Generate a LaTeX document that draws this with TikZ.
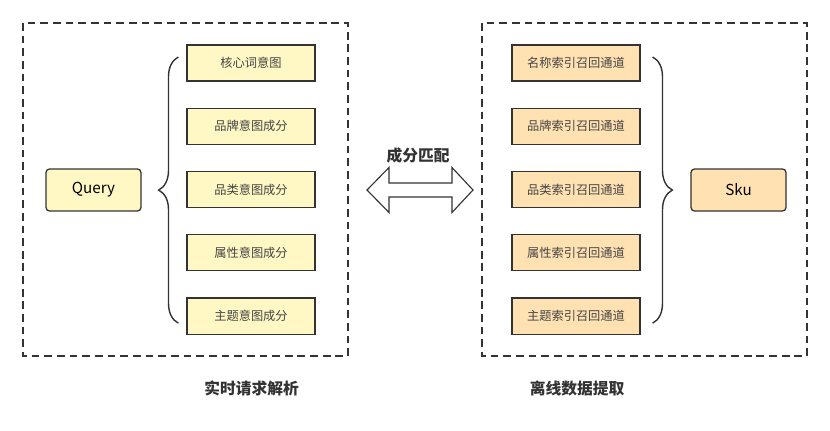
\documentclass[tikz,border=0pt]{standalone}
\usepackage{fontspec}
\setmainfont{Noto Sans CJK SC}
\usepackage{tikz}
\usetikzlibrary{positioning, calc, decorations.pathreplacing}

\definecolor{linegray}{HTML}{333333}
\definecolor{textgray}{HTML}{444444}
\definecolor{intentfill}{HTML}{FFF8C4}
\definecolor{recallfill}{HTML}{FFE1B2}

\tikzset{
  part/.style={draw=linegray, line width=0.9pt, minimum width=3.2cm, minimum height=0.9cm,
    inner sep=0pt, text=textgray, font=\fontsize{8.7}{10}\selectfont},
  intent/.style={part, fill=intentfill},
  recall/.style={part, fill=recallfill},
  keybox/.style={draw=linegray, line width=0.9pt, rounded corners=2.5pt, minimum width=2.375cm,
    minimum height=1.05cm, inner sep=0pt, font=\fontsize{10.8}{12}\selectfont},
  frame/.style={draw=linegray, line width=1.1pt, dash pattern=on 5.5pt off 3.5pt},
  bracket/.style={draw=linegray, line width=1pt, decorate,
    decoration={brace, amplitude=14pt}},
  caption/.style={text=linegray, font=\fontsize{11.2}{13}\selectfont\bfseries}
}

\begin{document}
\begin{tikzpicture}[x=0.025cm, y=-0.025cm]
\useasboundingbox (0,0) rectangle (830,430);

% Marcos
\draw[frame] (23,23) rectangle (348,356);
\draw[frame] (482,23) rectangle (807,356);

% Lado izquierdo
\node[keybox, fill=intentfill] (query) at (93.5,190) {Query};
\node[intent] (core) at (251,63) {核心词意图};
\node[intent, below=0.65cm of core] (brand) {品牌意图成分};
\node[intent, below=0.65cm of brand] (cate) {品类意图成分};
\node[intent, below=0.65cm of cate] (attr) {属性意图成分};
\node[intent, below=0.65cm of attr] (topic) {主题意图成分};
\draw[bracket] ($(topic.west)+(-8,7)$) -- ($(core.west)+(-8,-6)$);

% Lado derecho
\node[keybox, fill=recallfill] (sku) at (738.5,190) {Sku};
\node[recall] (name) at (576,63) {名称索引召回通道};
\node[recall, below=0.65cm of name] (brandch) {品牌索引召回通道};
\node[recall, below=0.65cm of brandch] (catech) {品类索引召回通道};
\node[recall, below=0.65cm of catech] (attrch) {属性索引召回通道};
\node[recall, below=0.65cm of attrch] (topicch) {主题索引召回通道};
\draw[bracket] ($(name.east)+(12,-6)$) -- ($(topicch.east)+(12,7)$);

% Flecha doble
\coordinate (mid) at (420,190);
\draw[draw=linegray, line width=0.8pt, fill=white]
  ($(mid)+(-53,0)$) -- ++(22,-22.5) -- ++(0,15.5) -- ++(63,0) -- ++(0,-15.5)
  -- ++(21,22.5) -- ++(-21,22.5) -- ++(0,-15.5) -- ++(-63,0) -- ++(0,15.5) -- cycle;
\node[caption] (matchlbl) at (418,155) {成分匹配};

% Titulos
\node[caption] (online) at (251.5,388) {实时请求解析};
\node[caption] (offline) at (577,388) {离线数据提取};

\end{tikzpicture}
\end{document}
